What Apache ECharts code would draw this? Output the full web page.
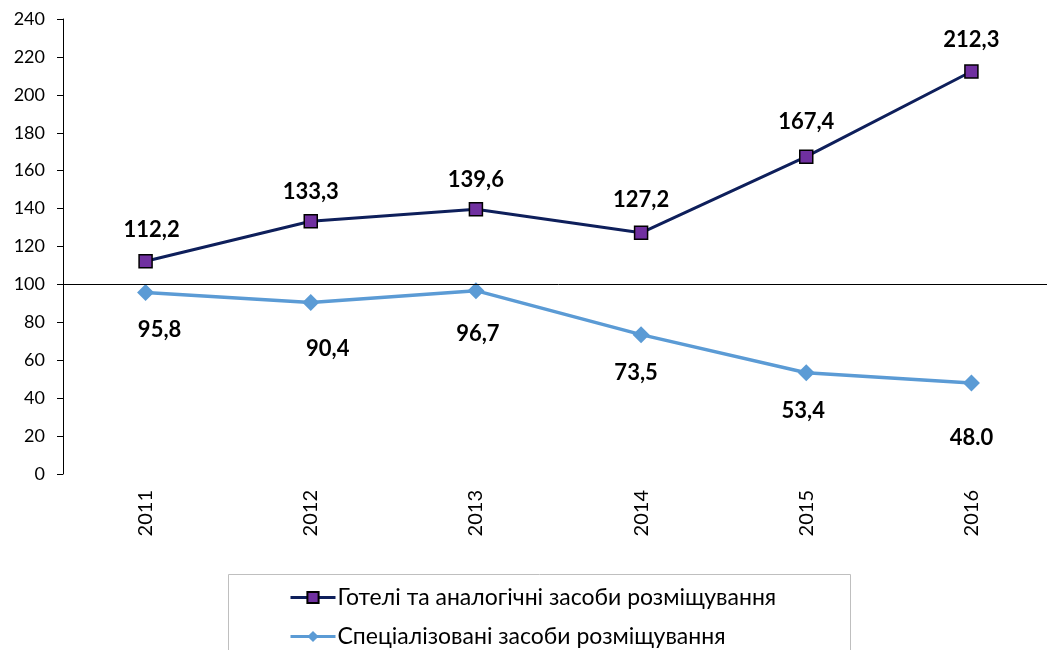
<!DOCTYPE html>
<html>
<head>
<meta charset="utf-8">
<script src="https://cdn.jsdelivr.net/npm/echarts@6/dist/echarts.min.js"></script>
<style>
html,body{margin:0;padding:0;background:#fff;overflow:hidden;}
#chart{width:1070px;height:650px;}
</style>
</head>
<body>
<div id="chart"></div>
<script>
const years = ['2011','2012','2013','2014','2015','2016'];
const hotels = [112.2, 133.3, 139.6, 127.2, 167.4, 212.3];
const hotelLabels = ['112,2','133,3','139,6','127,2','167,4','212,3'];
const special = [95.8, 90.4, 96.7, 73.5, 53.4, 48.0];
const specialLabels = ['95,8','90,4','96,7','73,5','53,4','48.0'];
const seriesNames = ['Готелі та аналогічні засоби розміщування', 'Спеціалізовані засоби розміщування'];
const yTicks = {min: 0, max: 240, interval: 20};
const refLine = 100;

// label nudges (layout only)
const specialLabelOffsets = [[14,0],[17,9],[2,6],[-5,1],[-3,1],[0,17]];
const hotelLabelOffsets = [[6,0],[0,2],[0,2],[0,-2],[0,-3],[0,0]];

const font = 'Lato, "Open Sans", sans-serif';
const legendCommon = {
  orient: 'horizontal',
  left: 284,
  itemWidth: 45,
  itemHeight: 14,
  lineStyle: {width: 3},
  textStyle: {fontSize: 23, color: '#000', fontFamily: font, padding: [0,0,0,-3]}
};
const chart = echarts.init(document.getElementById('chart'));
chart.setOption({
  animation: false,
  backgroundColor: '#ffffff',
  textStyle: {fontFamily: font},
  grid: {left: 63, top: 19, height: 455, width: 991, containLabel: false},
  xAxis: {
    type: 'category',
    data: years,
    boundaryGap: true,
    axisLine: {show: false},
    axisTick: {show: false},
    axisLabel: {rotate: 90, fontSize: 20, color: '#000', margin: 16, fontFamily: font}
  },
  yAxis: {
    type: 'value',
    min: yTicks.min, max: yTicks.max, interval: yTicks.interval,
    axisLine: {show: true, lineStyle: {color: '#000', width: 1}},
    axisTick: {show: true, length: 6, lineStyle: {color: '#000'}},
    splitLine: {show: false},
    axisLabel: {fontSize: 18, color: '#000', margin: 18, fontFamily: font}
  },
  legend: [
    Object.assign({}, legendCommon, {top: 581, data: [seriesNames[0]]}),
    Object.assign({}, legendCommon, {top: 620, data: [seriesNames[1]]})
  ],
  graphic: [{
    type: 'rect',
    shape: {x: 228.5, y: 574.5, width: 622, height: 100},
    style: {fill: 'none', stroke: '#bfbfbf', lineWidth: 1},
    silent: true, z: -1
  }],
  series: [
    {
      name: seriesNames[0],
      type: 'line',
      data: hotels.map((v, i) => ({value: v, label: {offset: hotelLabelOffsets[i]}})),
      symbol: 'rect',
      symbolSize: 13,
      lineStyle: {color: '#0e1f5b', width: 3},
      itemStyle: {color: '#7030a0', borderColor: '#000', borderWidth: 1.5},
      label: {
        show: true, position: 'top', distance: 13,
        fontSize: 22, fontWeight: 'bold', color: '#000', fontFamily: font,
        formatter: p => hotelLabels[p.dataIndex]
      },
      markLine: {
        silent: true,
        symbol: 'none',
        label: {show: false},
        lineStyle: {color: '#000', width: 1, type: 'solid'},
        data: [{yAxis: refLine}]
      },
      z: 3
    },
    {
      name: seriesNames[1],
      type: 'line',
      data: special.map((v, i) => ({value: v, label: {offset: specialLabelOffsets[i]}})),
      symbol: 'diamond',
      symbolSize: 17,
      lineStyle: {color: '#5b9bd5', width: 3.5},
      itemStyle: {color: '#5b9bd5'},
      label: {
        show: true, position: 'bottom', distance: 18,
        fontSize: 22, fontWeight: 'bold', color: '#000', fontFamily: font,
        formatter: p => specialLabels[p.dataIndex]
      },
      z: 2
    }
  ]
});
</script>
</body>
</html>
